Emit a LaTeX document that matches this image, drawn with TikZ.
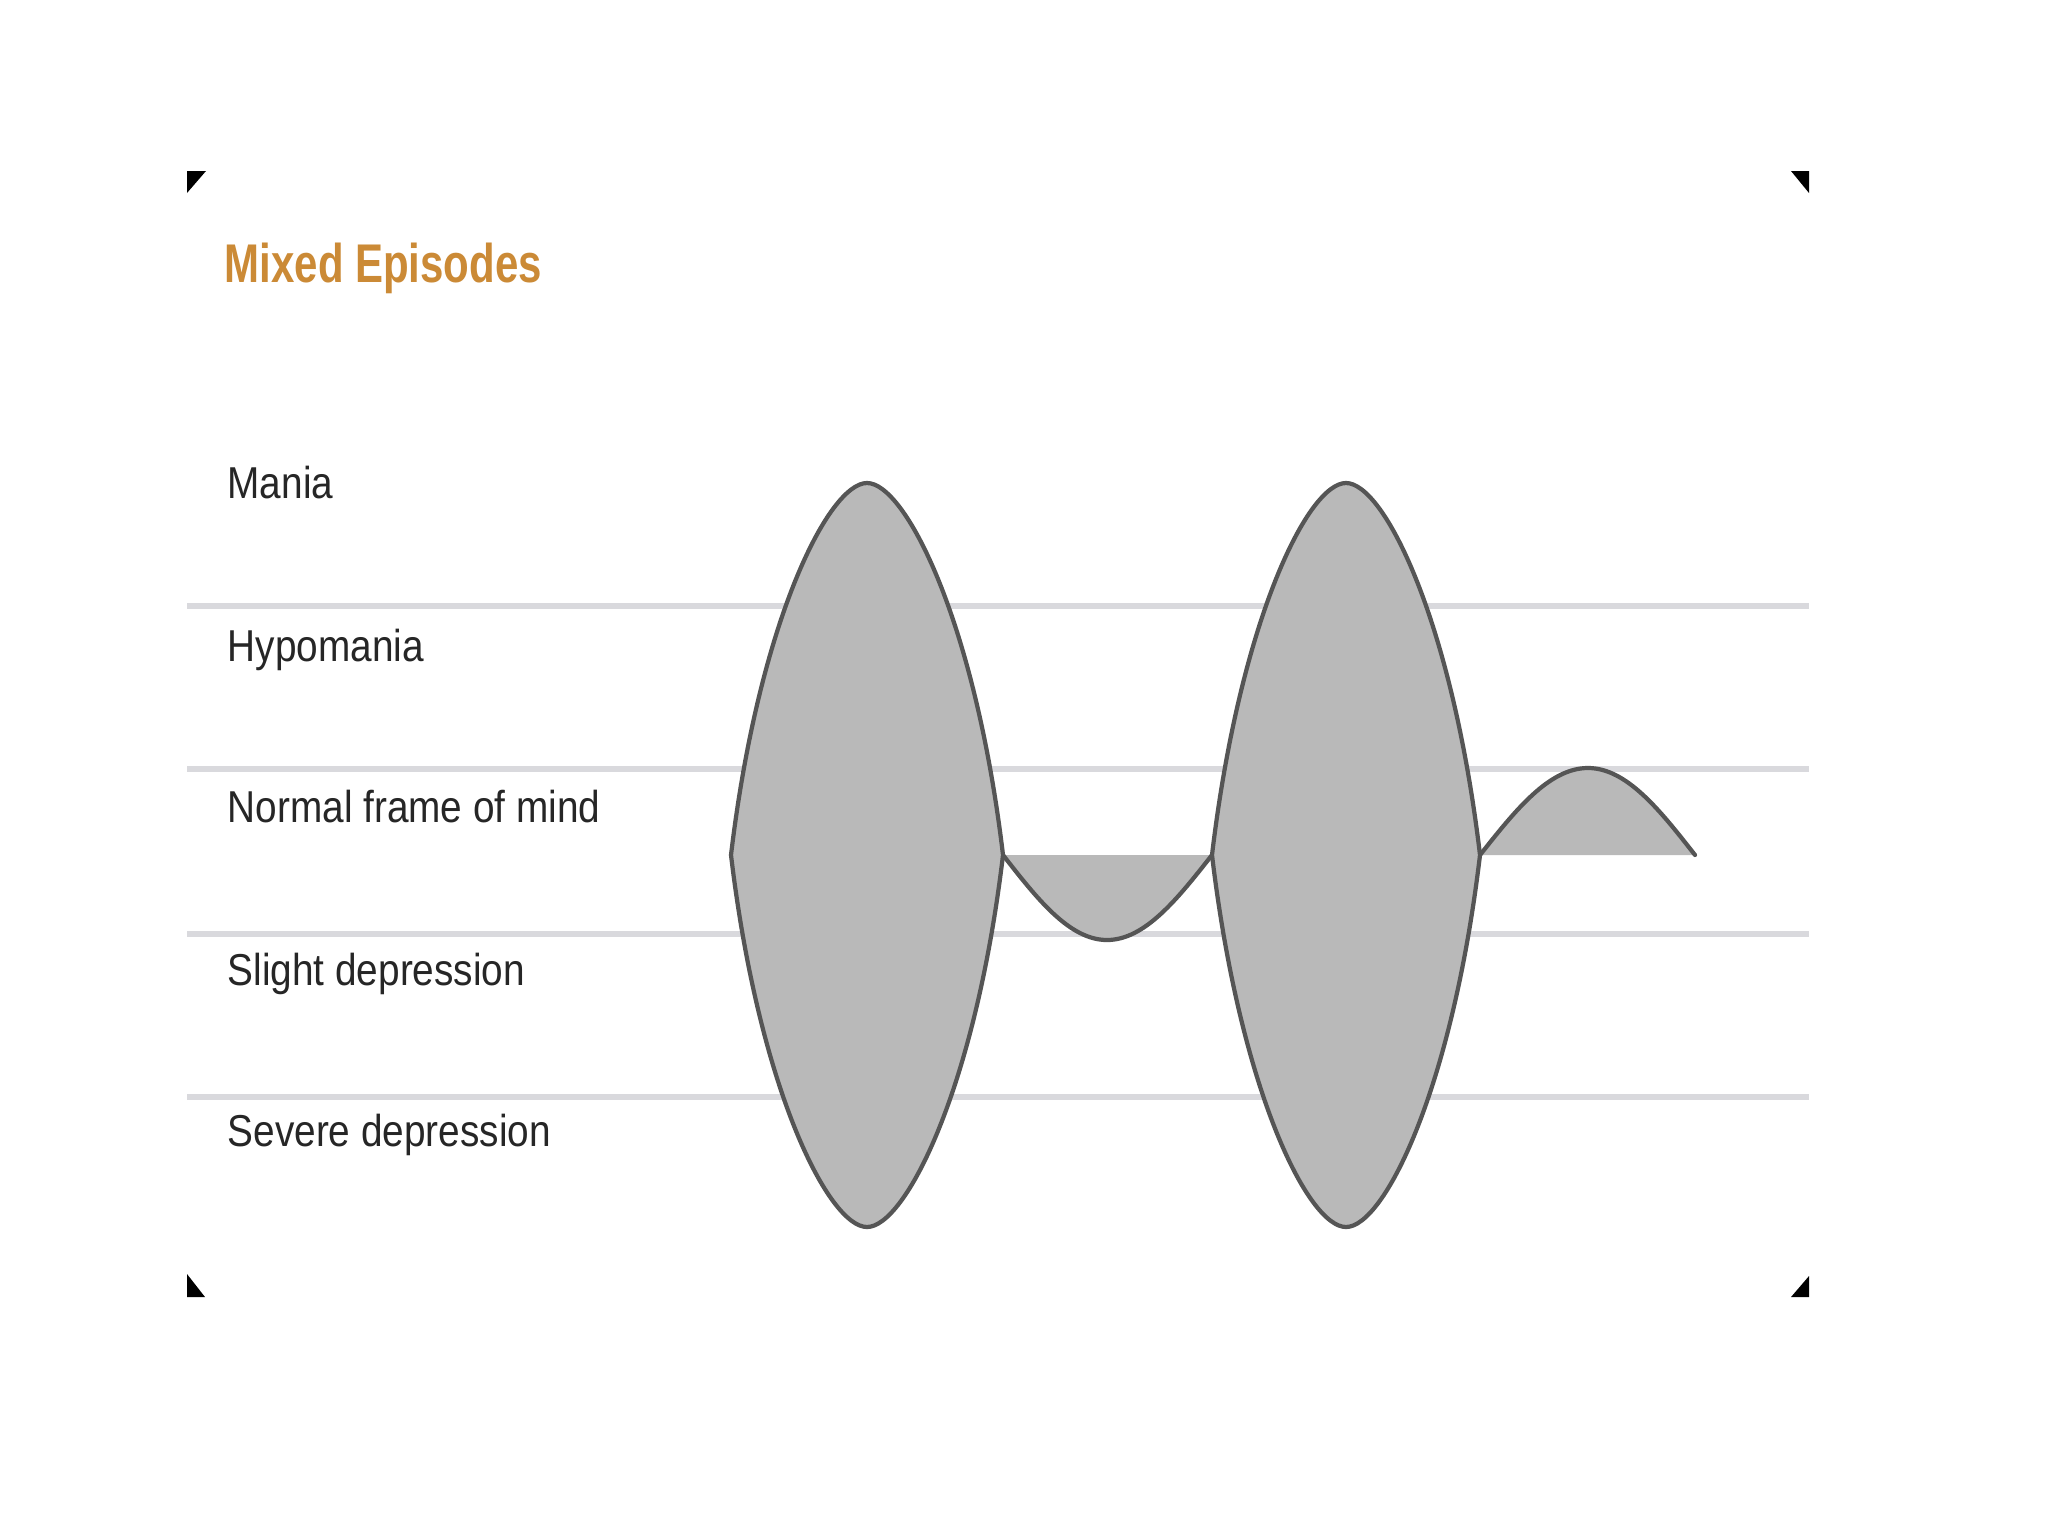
\documentclass[tikz,border=0pt]{standalone}
\usepackage{fontspec}
\usepackage{tikz}
\setmainfont{Liberation Sans}
\newfontfamily\lvlfont{Liberation Sans}[FakeStretch=0.868]
\newfontfamily\headfont{Liberation Sans}[FakeStretch=0.77]
\definecolor{ink}{HTML}{555555}
\definecolor{band}{HTML}{D9D9DD}
\definecolor{lobefill}{HTML}{B9B9B9}
\definecolor{ochre}{HTML}{CB8A36}

\begin{document}
\begin{tikzpicture}[x=0.01cm, y=-0.01cm,
  lvl/.style={anchor=base west, inner sep=0pt, font=\lvlfont\fontsize{12.7pt}{14pt}\selectfont, text=black!85},
  headline/.style={anchor=base west, inner sep=0pt, font=\headfont\bfseries\fontsize{15.5pt}{18pt}\selectfont, text=ochre},
  bandline/.style={draw=band, line width=1.6pt},
  lobe/.style={draw=ink, fill=lobefill, line width=1.2pt, line join=round},
  wave/.style={draw=ink, line width=1.2pt, line cap=round},
  corner/.style={fill=black}]
  \fill[white] (0,0) rectangle (2048,1536);
  \useasboundingbox (0,0) rectangle (2048,1536);
  % corner marks
  \fill[corner] (187,171) -- (206,171) -- (187,193) -- cycle;
  \fill[corner] (1791,171) -- (1809,171) -- (1809,193) -- cycle;
  \fill[corner] (187,1274) -- (187,1297) -- (205,1297) -- cycle;
  \fill[corner] (1809,1276) -- (1809,1297) -- (1791,1297) -- cycle;
  % title and levels
  \node[headline] (head) at (224,282) {Mixed Episodes};
  \node[lvl] (mania)  at (227,498)  {Mania};
  \node[lvl] (hypo)   at (227,661)  {Hypomania};
  \node[lvl] (normal) at (227,822)  {Normal frame of mind};
  \node[lvl] (slight) at (227,985)  {Slight depression};
  \node[lvl] (severe) at (227,1146) {Severe depression};
  \foreach \y in {606,769,934,1097}
    \draw[bandline] (187,\y) -- (1809,\y);
  % small swings
  \fill[lobefill] (1003,855) sin (1107,940) cos (1212,855) -- cycle;
  \draw[wave] (1003,855) sin (1107,940) cos (1212,855);
  \fill[lobefill] (1480,855) sin (1588,768) cos (1695,855) -- cycle;
  \draw[wave] (1480,855) sin (1588,768) cos (1695,855);
  % mixed episodes: centre/half-width
  \foreach \c/\w in {867/136,1346/134}
    \path[lobe] ({\c-\w},855)
      .. controls ({\c-\w+28},620) and ({\c-38},483) .. (\c,483)
      .. controls ({\c+38},483) and ({\c+\w-28},620) .. ({\c+\w},855)
      .. controls ({\c+\w-28},1090) and ({\c+38},1227) .. (\c,1227)
      .. controls ({\c-38},1227) and ({\c-\w+28},1090) .. ({\c-\w},855) -- cycle;
\end{tikzpicture}
\end{document}
